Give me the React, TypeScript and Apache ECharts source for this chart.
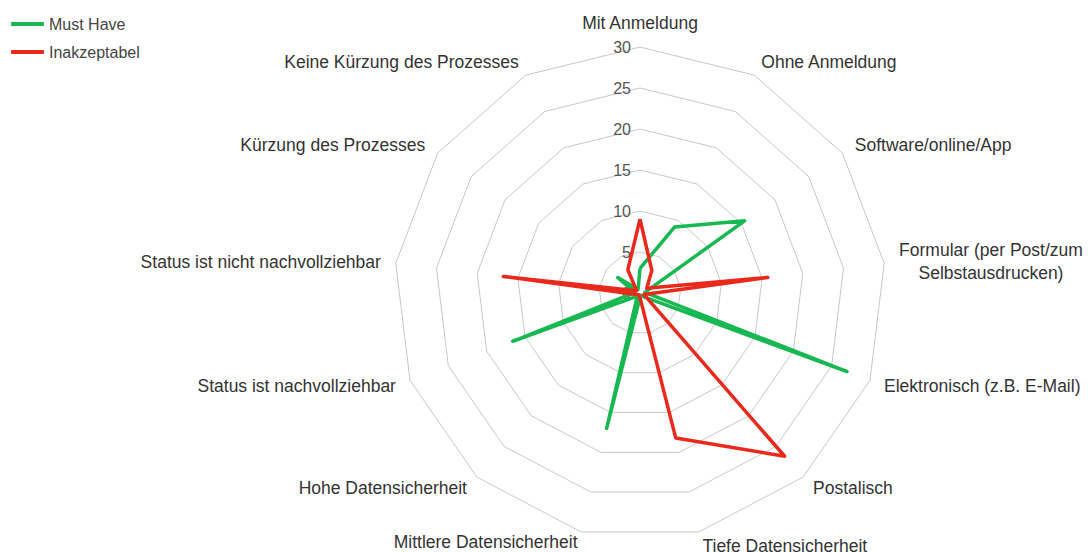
import React, { useEffect, useRef } from "react";
import * as echarts from "echarts";

const indicatorNames = [
  "Mit Anmeldung",
  "Ohne Anmeldung",
  "Software/online/App",
  "Formular (per Post/zum\nSelbstausdrucken)",
  "Elektronisch (z.B. E-Mail)",
  "Postalisch",
  "Tiefe Datensicherheit",
  "Mittlere Datensicherheit",
  "Hohe Datensicherheit",
  "Status ist nachvollziehbar",
  "Status ist nicht nachvollziehbar",
  "Kürzung des Prozesses",
  "Keine Kürzung des Prozesses",
];

const seriesNames = ["Must Have", "Inakzeptabel"];
const mustHave = [3, 9.1, 15.5, 0.6, 27, 0.6, 0.3, 17, 0.5, 16.6, 0.6, 3.3, 0.5];
const inakzeptabel = [9, 3.1, 1, 15.7, 0.5, 26.6, 18.2, 0.3, 0.3, 0.5, 16.8, 0.5, 3.2];
const axisMax = 30;

const GREEN = "#17b851";
const RED = "#e8291b";
const FONT = "'Liberation Sans', Arial, Helvetica, sans-serif";

// ECharts draws radar indicators counter-clockwise; reorder so they run clockwise.
const order = [0, ...indicatorNames.map((_, i) => i).slice(1).reverse()];
const reorder = <T,>(arr: T[]) => order.map((i) => arr[i]);

export default function App() {
  const ref = useRef<HTMLDivElement>(null);
  useEffect(() => {
    if (!ref.current) return;
    const chart = echarts.init(ref.current, null, { renderer: "svg" });
    chart.setOption({
      animation: false,
      textStyle: { fontFamily: FONT },
      legend: {
        orient: "vertical",
        left: 6,
        top: 11,
        itemWidth: 33,
        itemHeight: 4,
        itemGap: 12,
        icon: "roundRect",
        textStyle: { fontSize: 16, color: "#444", fontFamily: FONT },
        data: seriesNames,
      },
      radar: {
        center: [640, 293],
        radius: 246,
        shape: "polygon",
        splitNumber: 6,
        startAngle: 90,
        axisName: {
          color: "#333",
          fontSize: 17.5,
          fontFamily: FONT,
          formatter: (name: string) => {
            if (name.includes("\n")) {
              return name
                .split("\n")
                .map((l) => `{c|${l}}`)
                .join("\n");
            }
            if (name === indicatorNames[7]) return `{up|${name}}`;
            return name;
          },
          rich: {
            c: { align: "center", fontSize: 17.5, color: "#333", lineHeight: 23, fontFamily: FONT },
            up: { fontSize: 17.5, color: "#333", fontFamily: FONT, padding: [0, 0, 8, 0] },
          },
        },
        nameGap: 15,
        axisLine: { show: false },
        axisTick: { show: false },
        axisLabel: { show: false },
        splitLine: { lineStyle: { color: "#c8c8c8", width: 1 } },
        splitArea: { show: false },
        indicator: reorder(indicatorNames).map((n, i) =>
          i === 0
            ? {
                name: n,
                min: 0,
                max: axisMax,
                axisLabel: { show: true, fontSize: 16, color: "#555", margin: 9, fontFamily: FONT },
              }
            : { name: n, min: 0, max: axisMax }
        ),
      },
      series: [
        {
          type: "radar",
          symbol: "none",
          data: [
            {
              name: seriesNames[0],
              value: reorder(mustHave),
              lineStyle: { color: GREEN, width: 3.5 },
              itemStyle: { color: GREEN },
            },
            {
              name: seriesNames[1],
              value: reorder(inakzeptabel),
              lineStyle: { color: RED, width: 3.5 },
              itemStyle: { color: RED },
            },
          ],
        },
      ],
    });
    return () => chart.dispose();
  }, []);
  return (
    <div
      ref={ref}
      style={{ position: "fixed", left: 0, top: 0, width: 1091, height: 552, background: "#fff" }}
    />
  );
}
